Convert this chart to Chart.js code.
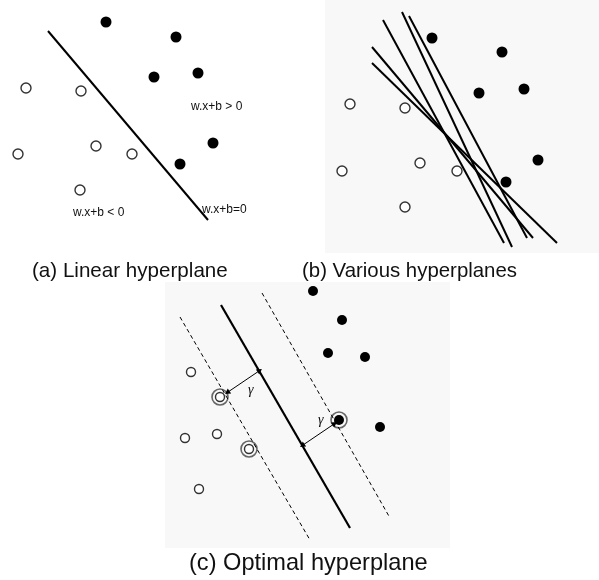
<!DOCTYPE html>
<html>
<head>
<meta charset="utf-8">
<script src="https://cdn.jsdelivr.net/npm/chart.js@4.4.1/dist/chart.umd.min.js"></script>
<style>
  html, body { margin: 0; padding: 0; background: #fff; }
  #wrap { width: 599px; height: 580px; }
</style>
</head>
<body>
<div id="wrap"><canvas id="svmChart" width="599" height="580"></canvas></div>
<script>
// positions, x to the right, y downwards

// (a) linear hyperplane
const aFilled = [[106, 22], [176, 37], [154, 77], [198, 73], [213, 143], [180, 164]];
const aOpen = [[26, 88], [81, 91], [18, 154], [96, 146], [132, 154], [80, 190]];
const aLine = [[48, 31], [208, 220]];

// (b) various hyperplanes
const bFilled = [[432, 38], [502, 52], [479, 93], [524, 89], [538, 160], [506, 182]];
const bOpen = [[350, 104], [405, 108], [342, 171], [420, 163], [457, 171], [405, 207]];
const bLines = [
    [[402, 12], [512, 247]],
    [[409, 16], [527, 238]],
    [[383, 20], [504, 243]],
    [[372, 47], [533, 238]],
    [[372, 63], [557, 243]]
];

// (c) optimal hyperplane
const cFilled = [[313, 291], [342, 320], [328, 353], [365, 357], [380, 427]];
const cOpen = [[191, 372], [185, 438], [217, 434], [199, 489]];
const cSupportFilled = [[339, 420]];
const cSupportOpen = [[220, 397], [249, 449]];
const cLine = [[221, 305], [350, 528]];
const cMargins = [
    [[180, 317], [310, 540]],
    [[262, 293], [390, 518]]
];
const cArrows = [
    [[228, 392], [259, 371]],
    [[303, 445], [334, 424]]
];

// text
const labels = [
    { text: 'w.x+b > 0', x: 191, y: 110, font: '12px "Liberation Sans", Arial' },
    { text: 'w.x+b < 0', x: 73, y: 216, font: '12px "Liberation Sans", Arial' },
    { text: 'w.x+b=0', x: 202, y: 213, font: '12px "Liberation Sans", Arial' },
    { text: 'γ', x: 248, y: 394, font: 'italic 14px "Liberation Serif", serif' },
    { text: 'γ', x: 318, y: 424, font: 'italic 14px "Liberation Serif", serif' },
    { text: '(a) Linear hyperplane', x: 32, y: 277, font: '20.6px "Liberation Sans", Arial' },
    { text: '(b) Various hyperplanes', x: 302, y: 277, font: '20.4px "Liberation Sans", Arial' },
    { text: '(c) Optimal hyperplane', x: 189, y: 570, font: '23.6px "Liberation Sans", Arial' }
];

// faint grey backdrops behind panels (b) and (c)
const panels = [
    { x0: 325, y0: 0, x1: 599, y1: 253 },
    { x0: 165, y0: 282, x1: 450, y1: 548 }
];

const pts = arr => arr.map(([x, y]) => ({ x, y }));

function filledDots(arr, r) {
    return { data: pts(arr), showLine: false, pointRadius: r, pointBackgroundColor: '#000', pointBorderWidth: 0 };
}
function openDots(arr, r) {
    return { data: pts(arr), showLine: false, pointRadius: r, pointBackgroundColor: '#fff', pointBorderColor: '#333', pointBorderWidth: 1.4 };
}
function rings(arr, r) {
    return { data: pts(arr), showLine: false, pointRadius: r, pointBackgroundColor: 'rgba(0,0,0,0)', pointBorderColor: '#666', pointBorderWidth: 1.6 };
}
function segment(pair, width, dash) {
    return { data: pts(pair), showLine: true, borderColor: '#000', borderWidth: width, borderDash: dash || [], pointRadius: 0, fill: false };
}
function arrow(pair) {
    const [[x0, y0], [x1, y1]] = pair;
    const ang = Math.atan2(y1 - y0, x1 - x0) * 180 / Math.PI;
    return {
        data: pts(pair), showLine: true, borderColor: '#000', borderWidth: 1,
        pointStyle: 'triangle', pointRadius: 3.5, pointBackgroundColor: '#000', pointBorderWidth: 0,
        pointRotation: [ang - 90, ang + 90]
    };
}

const datasets = [
    segment(aLine, 2),
    ...bLines.map(l => segment(l, 2)),
    segment(cLine, 2.2),
    ...cMargins.map(l => segment(l, 1, [4, 3])),
    ...cArrows.map(arrow),
    filledDots(aFilled, 5.5), openDots(aOpen, 5),
    filledDots(bFilled, 5.5), openDots(bOpen, 5),
    filledDots(cFilled, 5), openDots(cOpen, 4.5),
    rings(cSupportOpen, 8), openDots(cSupportOpen, 4.5),
    rings(cSupportFilled, 8), filledDots(cSupportFilled, 5)
];

const backdrop = {
    id: 'backdrop',
    beforeDatasetsDraw(chart) {
        const { ctx, scales: { x, y } } = chart;
        ctx.save();
        ctx.fillStyle = '#f8f8f8';
        panels.forEach(p => {
            const l = x.getPixelForValue(p.x0), r = x.getPixelForValue(p.x1);
            const t = y.getPixelForValue(p.y0), b = y.getPixelForValue(p.y1);
            ctx.fillRect(l, t, r - l, b - t);
        });
        ctx.restore();
    }
};

const textLabels = {
    id: 'textLabels',
    afterDatasetsDraw(chart) {
        const { ctx, scales: { x, y } } = chart;
        ctx.save();
        ctx.fillStyle = '#111';
        ctx.textBaseline = 'alphabetic';
        ctx.textAlign = 'left';
        labels.forEach(l => {
            ctx.font = l.font;
            ctx.fillText(l.text, x.getPixelForValue(l.x), y.getPixelForValue(l.y));
        });
        ctx.restore();
    }
};

const ctx = document.getElementById('svmChart').getContext('2d');
new Chart(ctx, {
    type: 'scatter',
    data: { datasets },
    plugins: [backdrop, textLabels],
    options: {
        responsive: false,
        animation: false,
        devicePixelRatio: 1,
        layout: { padding: 0, autoPadding: false },
        scales: {
            x: { type: 'linear', min: 0, max: 599, display: false },
            y: { type: 'linear', min: 0, max: 580, reverse: true, display: false }
        },
        plugins: {
            legend: { display: false },
            tooltip: { enabled: false }
        },
        elements: { line: { tension: 0 } }
    }
});
</script>
</body>
</html>
